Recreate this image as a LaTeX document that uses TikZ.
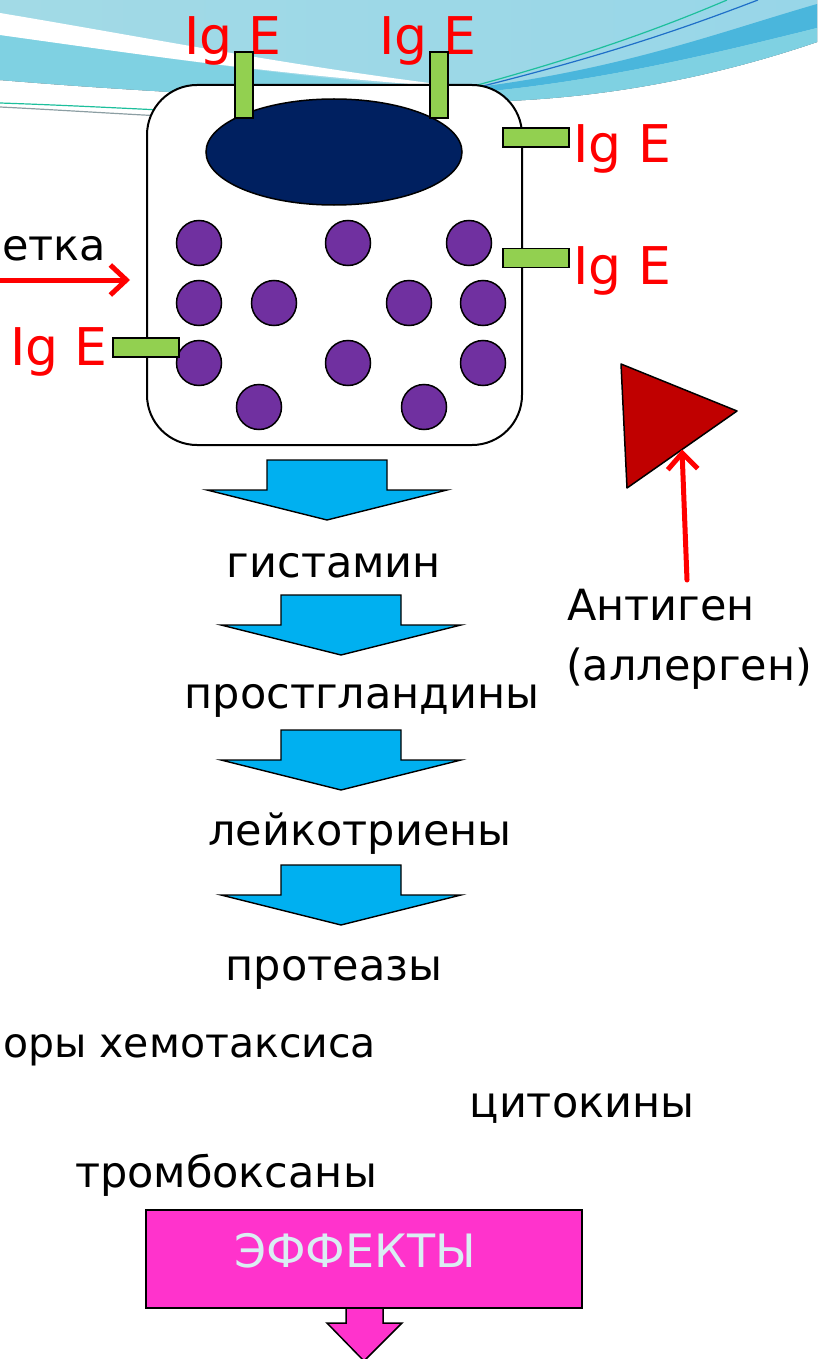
\documentclass[tikz,border=0pt]{standalone}
\usepackage{fontspec}
\setmainfont{DejaVu Sans}
\usetikzlibrary{arrows.meta,positioning,shapes.geometric,calc}
\definecolor{nucleusblue}{HTML}{002060}
\definecolor{granulepurple}{HTML}{7030A0}
\definecolor{receptorgreen}{HTML}{92D050}
\definecolor{antigenred}{HTML}{C00000}
\definecolor{flowblue}{HTML}{00B0F0}
\definecolor{effectpink}{HTML}{FF33CC}
\definecolor{effecttext}{HTML}{DAEEF3}
\definecolor{swooshlight}{HTML}{98D6E8}
\definecolor{swooshtop}{HTML}{A2DAE6}
\definecolor{swooshteal}{HTML}{7FD1E2}
\definecolor{swooshdark}{HTML}{4AB6DC}
\definecolor{lineteal}{HTML}{1DBF9C}
\definecolor{lineblue}{HTML}{1F6FC8}
\definecolor{linegray}{HTML}{8C9EA3}

\tikzset{
  cellbody/.style={draw, line width=2pt, fill=white, rounded corners=50pt,
    minimum width=375pt, minimum height=360pt},
  nucleus/.style={ellipse, draw, line width=1.5pt, fill=nucleusblue,
    minimum width=256pt, minimum height=106pt},
  granule/.style={circle, draw, line width=1.5pt, fill=granulepurple,
    minimum size=45pt, inner sep=0pt},
  receptor/.style={draw, line width=1.4pt, fill=receptorgreen, inner sep=0pt},
  ige/.style={text=red, font=\fontsize{52}{52}\selectfont, inner sep=0pt},
  mediator/.style={font=\fontsize{43}{50}\selectfont, inner sep=0pt},
  flowarrow/.style={draw, line width=1.4pt, fill=flowblue},
  redarrow/.style={draw=red, line width=5pt, line cap=round,
    -{Straight Barb[length=16pt,width=30pt]}},
}

\begin{document}
\begin{tikzpicture}[x=1pt, y=-1pt]
  \useasboundingbox (0,0) rectangle (817,1359);
  \clip (0,0) rectangle (817,1359);

  % swoosh along the top edge
  \fill[left color=swooshtop, right color=swooshlight]
    (0,0) -- (817,0) -- (817,42) .. controls (700,82) and (580,102) .. (460,102)
    .. controls (300,101) and (120,90) .. (0,80) -- cycle;
  \fill[swooshteal] (0,35) .. controls (150,55) and (300,80) .. (470,90)
    -- (460,102) .. controls (300,101) and (120,90) .. (0,80) -- cycle;
  \fill[white] (0,13) .. controls (150,38) and (300,68) .. (470,88)
    .. controls (300,78) and (150,56) .. (0,35) -- cycle;
  \fill[swooshdark] (470,88) .. controls (620,70) and (720,32) .. (817,4)
    -- (817,28) .. controls (720,52) and (600,82) .. (470,93) -- cycle;
  \fill[swooshteal] (470,93) .. controls (600,82) and (720,52) .. (817,28)
    -- (817,42) .. controls (700,82) and (580,102) .. (460,102) -- cycle;
  \draw[lineteal, line width=1.2pt] (470,87) .. controls (600,52) and (680,20) .. (727,0);
  \draw[lineblue, line width=1.2pt] (475,88) .. controls (620,52) and (700,22) .. (758,0);
  \draw[lineteal, line width=1.2pt] (0,103) .. controls (60,105) and (120,108) .. (200,112);
  \draw[linegray, line width=1.2pt] (0,107) .. controls (60,110) and (120,114) .. (200,118);

  % IgE labels
  \node[ige, anchor=base] (ige1) at (233,55) {Ig E};
  \node[ige, anchor=base] (ige2) at (428,55) {Ig E};
  \node[ige, anchor=base west] (ige3) at (573,163) {Ig E};
  \node[ige, anchor=base west] (ige4) at (573,284) {Ig E};
  \node[ige, anchor=base east] (ige5) at (108,365) {Ig E};

  % mast cell with nucleus and granules
  \node[cellbody] (cell) at (334.5,265) {};
  \node[nucleus] (nucleus) at (334,152) {};
  \foreach \gx/\gy [count=\i] in {199/243, 348/243, 469/243, 199/303, 274/303,
      409/303, 483/303, 199/363, 348/363, 483/363, 259/407, 424/407}
    \node[granule] (g\i) at (\gx,\gy) {};

  % receptors on the membrane
  \node[receptor, minimum width=18pt, minimum height=66pt] (rtop1) at (244,85) {};
  \node[receptor, minimum width=18pt, minimum height=66pt] (rtop2) at (439,85) {};
  \node[receptor, minimum width=66pt, minimum height=19pt] (rright1) at (536,137.5) {};
  \node[receptor, minimum width=66pt, minimum height=19pt] (rright2) at (536,258) {};
  \node[receptor, minimum width=66pt, minimum height=19pt] (rleft) at (146,347.5) {};

  \node[mediator, anchor=base west] (mast) at (2,260) {етка};
  \coordinate (mastfrom) at (-6,280);
  \coordinate (mastto) at (130,280);
  \draw[redarrow] (mastfrom) -- (mastto);

  % antigen
  \coordinate (ag1) at (621,364);
  \coordinate (ag2) at (737,411);
  \coordinate (ag3) at (627,488);
  \draw[line width=1.5pt, fill=antigenred, line join=round] (ag1) -- (ag2) -- (ag3) -- cycle;
  \node[mediator, anchor=base west] (antigen) at (567,620) {Антиген};
  \node[mediator, anchor=base west] (allergen) at (566,680) {(аллерген)};
  \coordinate (agfrom) at (687,580);
  \draw[redarrow] (agfrom) -- ($(ag2)!0.5!(ag3)$);

  % released mediators
  \foreach \cx/\ty in {327/460, 341/595, 341/730, 341/865}
    \draw[flowarrow] (\cx-60,\ty) -- (\cx+60,\ty) -- (\cx+60,\ty+30) -- (\cx+120,\ty+30)
      -- (\cx,\ty+60) -- (\cx-120,\ty+30) -- (\cx-60,\ty+30) -- cycle;
  \node[mediator, anchor=base] (histamine) at (334,577) {гистамин};
  \node[mediator, anchor=base] (prostaglandins) at (362,708) {простгландины};
  \node[mediator, anchor=base] (leukotrienes) at (360,845) {лейкотриены};
  \node[mediator, anchor=base] (proteases) at (334,980) {протеазы};
  \node[mediator, anchor=base west, font=\fontsize{41}{50}\selectfont]
    (chemotaxis) at (3,1057) {оры хемотаксиса};
  \node[mediator, anchor=base] (cytokines) at (582,1117) {цитокины};
  \node[mediator, anchor=base] (thromboxanes) at (226,1187) {тромбоксаны};

  % effects
  \node[draw, line width=1.5pt, fill=effectpink, minimum width=436pt,
    minimum height=98pt] (effects) at (364,1259) {};
  \node[text=effecttext, font=\fontsize{46}{46}\selectfont, inner sep=0pt,
    anchor=base] (effectslabel) at (355,1267) {ЭФФЕКТЫ};
  \draw[line width=1.5pt, fill=effectpink] (346,1308) -- (346,1323) -- (327,1323)
    -- (364,1361) -- (402,1323) -- (383,1323) -- (383,1308) -- cycle;
\end{tikzpicture}
\end{document}
